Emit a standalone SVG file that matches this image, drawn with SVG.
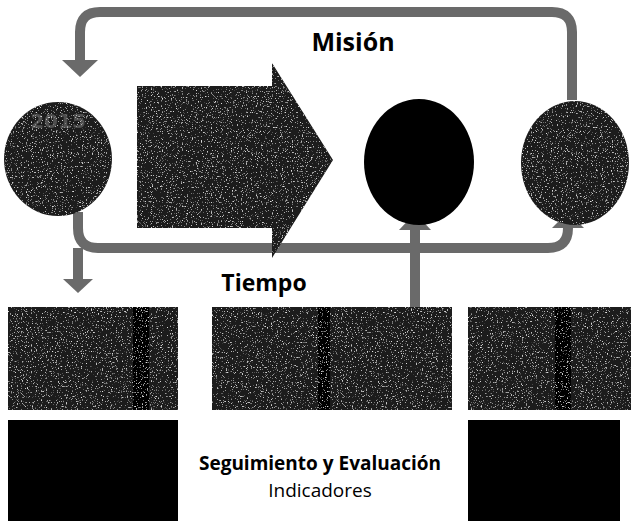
<svg xmlns="http://www.w3.org/2000/svg" width="631" height="521" viewBox="0 0 631 521">
<defs>
<filter id="grain" x="0" y="0" width="100%" height="100%">
<feTurbulence type="fractalNoise" baseFrequency="0.8" numOctaves="2" seed="3" result="n"/>
<feColorMatrix in="n" type="matrix" values="0 0 0 0 0.75  0 0 0 0 0.75  0 0 0 0 0.75  5 0 0 0 -3.1" result="w"/>
<feComposite in="w" in2="SourceGraphic" operator="in" result="wc"/>
<feMerge><feMergeNode in="SourceGraphic"/><feMergeNode in="wc"/></feMerge>
</filter>
</defs>
<style>
.conn{fill:none;stroke:#6a6a6a;stroke-width:10}
.head{fill:#6a6a6a}
.gray{fill:#1e1e1e}
.blk{fill:#000000}
.band{fill:#050505}
.lbl{font-family:"Open Sans","DejaVu Sans",sans-serif;fill:#000}
.b{font-weight:bold}
.inner{font-family:"DejaVu Sans",sans-serif;font-size:20px;font-weight:bold;fill:#505050;text-anchor:middle}
</style>
<rect width="631" height="521" fill="#ffffff"/>
<g id="connectors">
<path class="conn" d="M572,100 V32 Q572,12 552,12 H100 Q80,12 80,32 V62"/>
<polygon class="head" points="62,60 98,60 80,77"/>
<path class="conn" d="M78,212 V228 Q78,248 98,248 H548 Q568,248 568,228 V226"/>
<polygon class="head" points="552,228 584,228 568,212"/>
<path class="conn" d="M78,248 V282"/>
<polygon class="head" points="63,279 93,279 78,293"/>
<path class="conn" d="M415,307 V228"/>
<polygon class="head" points="399,230 431,230 415,213"/>
</g>
<g id="mision"><text class="lbl b" x="353" y="51" font-size="25" text-anchor="middle">Misión</text></g>
<g id="tiempo"><text class="lbl b" x="264" y="291" font-size="23" text-anchor="middle">Tiempo</text></g>
<g id="circle-2015" filter="url(#grain)">
<ellipse class="gray" cx="58" cy="159" rx="54" ry="57"/>
<text class="inner" x="58" y="128">2015</text>
</g>
<g id="arrow-objetivos" filter="url(#grain)">
<polygon class="gray" points="137,86 272,86 272,63 333,160 272,258 272,228 137,228"/>
</g>
<g id="circle-middle"><ellipse class="blk" cx="419" cy="162" rx="55" ry="63"/></g>
<g id="circle-right" filter="url(#grain)"><ellipse class="gray" cx="575" cy="163" rx="54" ry="62"/></g>
<g id="box-interno" filter="url(#grain)">
<rect class="gray" x="8" y="307" width="170" height="103"/>
<rect class="band" x="133" y="307" width="16" height="103"/>
</g>
<g id="box-externo" filter="url(#grain)">
<rect class="gray" x="212" y="307" width="240" height="103"/>
<rect class="band" x="318" y="307" width="12" height="103"/>
</g>
<g id="box-right" filter="url(#grain)">
<rect class="gray" x="468" y="307" width="163" height="103"/>
<rect class="band" x="555" y="307" width="16" height="103"/>
</g>
<g id="box-bl"><rect class="blk" x="8" y="420" width="170" height="101"/></g>
<g id="box-br"><rect class="blk" x="468" y="420" width="152" height="101"/></g>
<g id="seguimiento">
<text class="lbl b" x="320" y="470" font-size="19" text-anchor="middle">Seguimiento y Evaluación</text>
<text class="lbl" x="320" y="497" font-size="19" text-anchor="middle">Indicadores</text>
</g>
</svg>
